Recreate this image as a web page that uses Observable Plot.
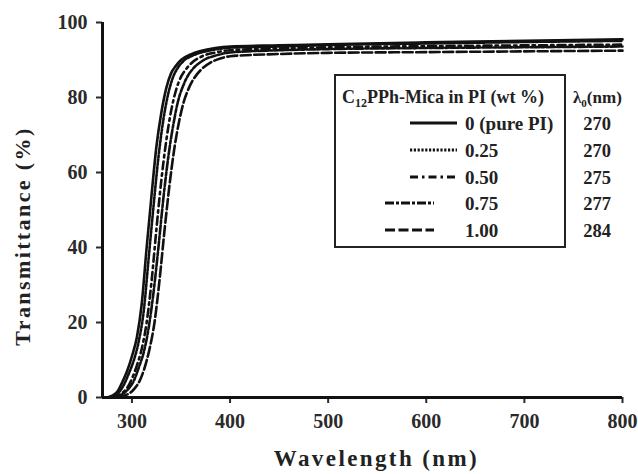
<!DOCTYPE html>
<html>
<head>
<meta charset="utf-8">
<script src="https://cdn.jsdelivr.net/npm/d3@7"></script>
<script src="https://cdn.jsdelivr.net/npm/@observablehq/plot@0.6"></script>
<style>
  html, body { margin: 0; padding: 0; background: white; }
</style>
</head>
<body>
<div id="chart"></div>
<script>
// ---- Data ----
const xTicks = [300, 400, 500, 600, 700, 800];
const yTicks = [0, 20, 40, 60, 80, 100];

const seriesLabels = ["0 (pure PI)", "0.25", "0.50", "0.75", "1.00"];
const cutoffLambda = ["270", "270", "275", "277", "284"];

const wl0 = [275, 280, 285, 290, 295, 300, 305, 310, 315, 320, 325, 330, 335, 340, 345, 350, 360, 370, 385, 400, 450, 500, 600, 700, 800];
const tr0 = [0, 0.5, 1.5, 4, 7, 11, 16, 25, 40, 54, 67, 76, 82.5, 86.5, 88.5, 90, 91.5, 92.4, 93.2, 93.6, 93.9, 94.2, 94.7, 95.1, 95.5];

const wl25 = [277, 282, 287, 292, 297, 302, 307, 312, 317, 322, 327, 332, 337, 342, 347, 352, 362, 372, 387, 400, 450, 500, 600, 700, 800];
const tr25 = [0, 0.5, 1.5, 3.5, 6.5, 10, 15, 23, 37, 51, 64, 74, 81, 85.5, 88, 89.6, 91.2, 92.1, 92.9, 93.3, 93.6, 94, 94.4, 94.8, 95.1];

const wl50 = [280, 285, 290, 295, 300, 305, 310, 315, 320, 325, 330, 335, 340, 345, 350, 355, 360, 370, 385, 400, 450, 500, 600, 700, 800];
const tr50 = [0, 0.5, 1.2, 2.5, 5, 8.5, 13, 20, 31, 45, 58, 68.5, 76.5, 82, 85.5, 87.5, 89, 90.8, 92, 92.6, 93.1, 93.4, 93.7, 93.9, 94.1];

const wl75 = [282, 287, 292, 297, 302, 307, 312, 317, 322, 327, 332, 337, 342, 347, 352, 357, 362, 372, 387, 400, 450, 500, 600, 700, 800];
const tr75 = [0, 0.5, 1.2, 2.5, 4.5, 8, 12, 18.5, 28, 40, 53, 64, 72.5, 79, 83, 85.8, 87.6, 89.8, 91.3, 92, 92.6, 92.9, 93.2, 93.4, 93.6];

const wl100 = [286, 292, 298, 303, 308, 313, 318, 323, 328, 333, 338, 343, 348, 353, 358, 363, 370, 380, 390, 400, 450, 500, 600, 700, 800];
const tr100 = [0, 0.5, 1.2, 2.5, 4.5, 8, 13, 20, 31, 44, 56, 66, 73.5, 79, 82.5, 85, 87.3, 89.3, 90.4, 91, 91.6, 91.9, 92.1, 92.3, 92.5];

const allWl = [wl0, wl25, wl50, wl75, wl100];
const allTr = [tr0, tr25, tr50, tr75, tr100];

// ---- Styles ----
const dashes = [null, "2.2,1.6", "8,4,2.5,4", "9,2,3,2", "10,3.5"];
const font = "'Liberation Serif', 'Times New Roman', serif";

const lineMarks = allWl.map((wl, i) => {
  const data = wl.map((w, j) => ({w, t: allTr[i][j]}));
  return Plot.line(data, {
    x: "w", y: "t",
    stroke: "#111",
    strokeWidth: 2.6,
    strokeDasharray: dashes[i] || undefined,
    curve: "monotone-x"
  });
});

const chart = Plot.plot({
  width: 638,
  height: 474,
  marginLeft: 102,
  marginRight: 16,
  marginTop: 22,
  marginBottom: 77,
  style: {fontFamily: font, fontSize: "20px", fontWeight: "bold", color: "#2a2a2a", background: "white", overflow: "visible"},
  x: {domain: [270, 800]},
  y: {domain: [0, 100]},
  marks: [
    Plot.axisX({ticks: xTicks, tickSize: 6, tickPadding: 10, strokeWidth: 2, label: null, tickFormat: d => String(d)}),
    Plot.axisY({ticks: yTicks, tickSize: 6, tickPadding: 9, strokeWidth: 2, label: null, tickFormat: d => String(d)}),
    ...lineMarks,
    Plot.ruleY([0], {stroke: "#111", strokeWidth: 3}),
    Plot.ruleX([270], {stroke: "#111", strokeWidth: 3}),
    Plot.text(["Wavelength (nm)"], {frameAnchor: "bottom", textAnchor: "middle", dx: 14, dy: 68, fontSize: 23, fontWeight: "bold", fill: "#222"}),
    Plot.text(["Transmittance (%)"], {frameAnchor: "left", textAnchor: "middle", dx: -80, dy: 26, rotate: -90, fontSize: 22, fontWeight: "bold", fill: "#222"})
  ]
});

document.getElementById("chart").appendChild(chart);
d3.select(chart).selectAll("text").filter(function() { return this.textContent === "Transmittance (%)" || this.textContent === "Wavelength (nm)"; })
  .attr("letter-spacing", "2.4px");

// ---- Legend ----
const svg = d3.select(chart);
const lg = svg.append("g").attr("font-family", font).attr("font-weight", "bold").attr("fill", "#222").attr("text-anchor", "start");
lg.append("rect").attr("x", 335).attr("y", 75).attr("width", 230).attr("height", 172)
  .attr("fill", "white").attr("stroke", "#222").attr("stroke-width", 2);

const hdr = lg.append("text").attr("x", 342).attr("y", 103).attr("font-size", 18);
hdr.append("tspan").text("C");
hdr.append("tspan").attr("font-size", 12).attr("dy", 4).text("12");
hdr.append("tspan").attr("dy", -4).text("PPh-Mica in PI (wt %)");

const lh = lg.append("text").attr("x", 573).attr("y", 103).attr("font-size", 17);
lh.append("tspan").text("λ");
lh.append("tspan").attr("font-size", 11).attr("dy", 4).text("0");
lh.append("tspan").attr("dy", -4).text("(nm)");

const rowY = [123, 150, 177, 203, 230];
seriesLabels.forEach((lab, i) => {
  const x1 = i < 3 ? 410 : 385;
  const x2 = i < 3 ? 457 : 434;
  lg.append("line").attr("x1", x1).attr("x2", x2).attr("y1", rowY[i]).attr("y2", rowY[i])
    .attr("stroke", "#111").attr("stroke-width", 2.8)
    .attr("stroke-dasharray", dashes[i]);
  lg.append("text").attr("x", 465).attr("y", rowY[i] + 6.5).attr("font-size", 19).text(lab);
  lg.append("text").attr("x", 597).attr("y", rowY[i] + 6.5).attr("font-size", 18.5).attr("text-anchor", "middle").text(cutoffLambda[i]);
});
</script>
</body>
</html>
